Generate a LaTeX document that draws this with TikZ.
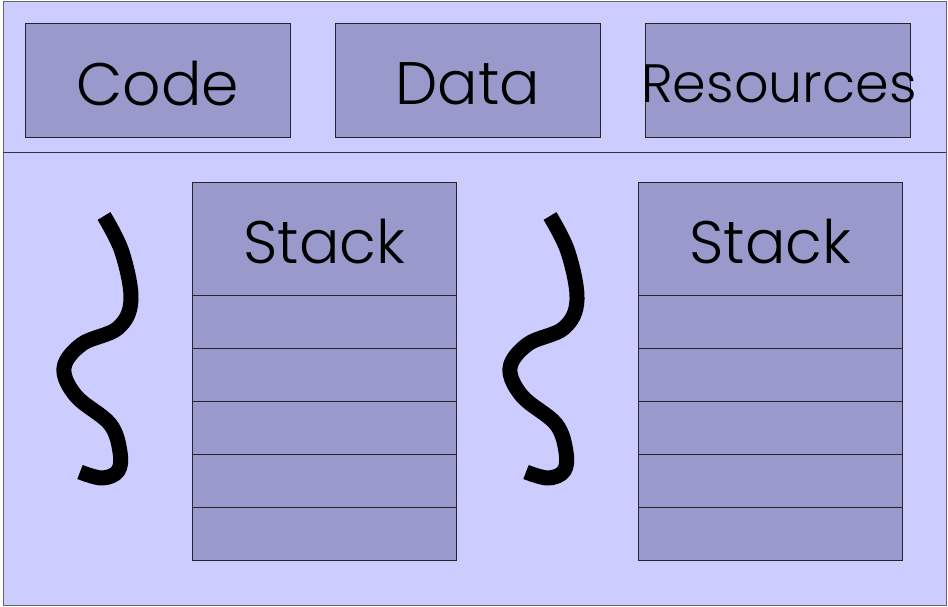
\documentclass[tikz,border=0pt]{standalone}
\usepackage{fontspec}
\setmainfont{Poppins}[UprightFont=* Light]
\begin{document}
\begin{tikzpicture}[x=1pt,y=-1pt,
  outer/.style={draw=black!60,line width=1pt,fill={rgb,255:red,204;green,204;blue,255}},
  box/.style={draw=black!85,line width=0.8pt,fill={rgb,255:red,153;green,153;blue,204},anchor=north west,inner sep=0pt},
  lbl/.style={font=\fontsize{60}{64}\selectfont},
  squig/.style={line width=15pt,line cap=butt,line join=round}]
\useasboundingbox (0,0) rectangle (948,606);
\node[outer,anchor=north west,minimum width=943pt,minimum height=604pt,inner sep=0pt] (frame) at (3,1) {};
\coordinate (dl) at (3,152);
\coordinate (dr) at (946,152);
\draw[black!80,line width=0.8pt] (dl) -- (dr);
\node[box,minimum width=265pt,minimum height=114pt] (code) at (25,23) {};
\node[lbl] at ([yshift=-3pt]code.center) {Code};
\node[box,minimum width=265pt,minimum height=114pt] (data) at (335,23) {};
\node[lbl] at ([yshift=-3pt]data.center) {Data};
\node[box,minimum width=265pt,minimum height=114pt] (res) at (645,23) {};
\node[lbl,font=\fontsize{54}{60}\selectfont] at ([xshift=1pt,yshift=-3pt]res.center) {Resources};
\foreach \n/\x in {a/192,b/638}{
  \node[box,minimum width=264pt,minimum height=113pt] (\n h) at (\x,182) {};
  \node[lbl] at ([yshift=-3pt]\n h.center) {Stack};
  \foreach \i in {1,...,5}{
    \node[box,minimum width=264pt,minimum height=53pt] (\n r\i) at (\x,{295+(\i-1)*53}) {};
  }
}
\foreach \dx in {0,446}{
  \begin{scope}[xshift=\dx pt]
  \draw[squig] plot[smooth,tension=0.6] coordinates {(104,216) (122,252) (131,300) (118,328) (82,344) (64,368) (76,396) (110,424) (120,452) (118,471) (102,478) (80,472)};
  \end{scope}
}
\end{tikzpicture}
\end{document}
